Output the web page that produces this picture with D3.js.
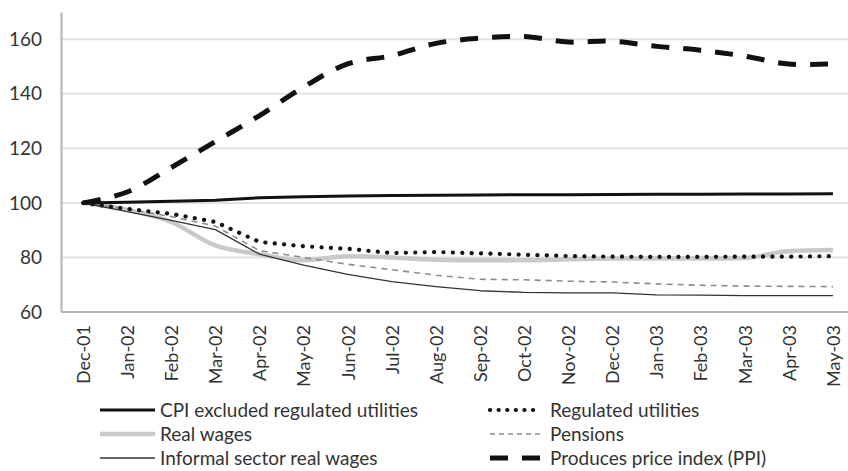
<!DOCTYPE html>
<html>
<head>
<meta charset="utf-8">
<script src="https://cdn.jsdelivr.net/npm/d3@7"></script>
<style>
  html, body { margin: 0; padding: 0; background: #fff; }
  svg { display: block; }
  text { font-family: Lato, "Open Sans", sans-serif; fill: #333; }
</style>
</head>
<body>
<svg id="chart" width="848" height="471"></svg>
<script>
// Monthly index values, Dec-01 = 100
const months = ["Dec-01","Jan-02","Feb-02","Mar-02","Apr-02","May-02","Jun-02","Jul-02","Aug-02",
                "Sep-02","Oct-02","Nov-02","Dec-02","Jan-03","Feb-03","Mar-03","Apr-03","May-03"];

const cpiExclRegulated = [100,100.2,100.6,101,101.9,102.3,102.5,102.7,102.8,102.9,103,103,103.1,103.2,103.2,103.3,103.3,103.4];
const regulatedUtilities = [100,97.8,96,93,85.7,84.1,83.2,81.6,82,81.5,81,80.5,80.3,80.2,80.2,80.3,80.3,80.5];
const realWages = [100,97.5,93,84.4,81.2,79,80.4,80,79.2,79,79,79.3,79.6,79.6,79.6,79.8,82.3,82.7];
const pensions = [100,97.8,95,91.5,82.5,80,77.5,75.5,73.5,72,71.8,71.3,71,70.3,69.8,69.5,69.4,69.3];
const informalWages = [100,96.8,93.6,90.2,81.2,77.2,73.8,71.1,69.3,67.8,67.2,67,67,66.3,66.2,66,66,66];
const ppi = [100,104,113,122.5,132,142.5,151,154,158.5,160.4,161,159,159.3,157.4,156,153.8,150.9,151];

const yTicks = [60, 80, 100, 120, 140, 160];

const seriesNames = ["CPI excluded regulated utilities","Regulated utilities","Real wages","Pensions",
                     "Informal sector real wages","Produces price index (PPI)"];

const svg = d3.select("#chart");

const x = d3.scalePoint().domain(months).range([61, 855]).padding(0.5);
const y = d3.scaleLinear().domain([60, 170]).range([312, 12]);

// horizontal gridlines
svg.append("g")
  .selectAll("line")
  .data(yTicks.slice(1))
  .join("line")
  .attr("x1", 61).attr("x2", 855)
  .attr("y1", d => y(d)).attr("y2", d => y(d))
  .attr("stroke", "#e2e2e2").attr("stroke-width", 2);

// y axis
const yAxis = svg.append("g").attr("transform", "translate(61,0)")
  .call(d3.axisLeft(y).tickValues(yTicks).tickSize(0).tickPadding(19));
yAxis.select(".domain").attr("stroke", "#b4b4b4").attr("stroke-width", 2);
yAxis.selectAll("text").style("font-size", "19px").style("font-family", "Lato, sans-serif").attr("fill", "#333");

// x axis
const xAxis = svg.append("g").attr("transform", `translate(0,${y(60)})`)
  .call(d3.axisBottom(x).tickSize(0).tickPadding(0));
xAxis.select(".domain").attr("d", "M61,0H855").attr("stroke", "#b4b4b4").attr("stroke-width", 2);
xAxis.selectAll("text")
  .style("font-size", "18px").style("font-family", "Lato, sans-serif").attr("fill", "#333")
  .attr("text-anchor", "end")
  .attr("transform", "rotate(-90)")
  .attr("x", -13).attr("y", 0).attr("dy", "0.35em");

const styles = [
  { data: cpiExclRegulated, stroke: "#111", width: 3, dash: null, cap: "butt", curve: d3.curveLinear },
  { data: regulatedUtilities, stroke: "#111", width: 4.2, dash: "0.1,9.3", cap: "round", curve: d3.curveLinear },
  { data: realWages, stroke: "#c9c9c9", width: 4.5, dash: null, cap: "butt", curve: d3.curveMonotoneX },
  { data: pensions, stroke: "#8c8c8c", width: 1.6, dash: "6,5", cap: "butt", curve: d3.curveLinear },
  { data: informalWages, stroke: "#333", width: 1.3, dash: null, cap: "butt", curve: d3.curveLinear },
  { data: ppi, stroke: "#111", width: 5, dash: "18,14", cap: "butt", curve: d3.curveCatmullRom }
];

// draw order: lighter lines underneath
const drawOrder = [2, 3, 4, 0, 1, 5];
drawOrder.forEach(i => {
  const s = styles[i];
  const line = d3.line().x((d, j) => x(months[j])).y(d => y(d)).curve(s.curve);
  svg.append("path")
    .datum(s.data)
    .attr("d", line)
    .attr("fill", "none")
    .attr("stroke", s.stroke)
    .attr("stroke-width", s.width)
    .attr("stroke-linecap", s.cap)
    .attr("stroke-linejoin", "round")
    .attr("stroke-dasharray", s.dash);
});

// legend: two columns, three rows
const legendPos = [
  { sx: 100, ex: 155, tx: 160, ty: 410 },
  { sx: 490, ex: 540, tx: 550, ty: 410 },
  { sx: 100, ex: 155, tx: 160, ty: 434 },
  { sx: 490, ex: 540, tx: 550, ty: 434 },
  { sx: 100, ex: 155, tx: 160, ty: 458 },
  { sx: 490, ex: 540, tx: 550, ty: 458 }
];
const legendDash = [null, "0.1,8.5", null, "5,4", null, "18,14"];

const legend = svg.append("g");
seriesNames.forEach((name, i) => {
  const p = legendPos[i], s = styles[i];
  legend.append("line")
    .attr("x1", p.sx).attr("x2", p.ex).attr("y1", p.ty).attr("y2", p.ty)
    .attr("stroke", s.stroke).attr("stroke-width", s.width)
    .attr("stroke-linecap", s.cap)
    .attr("stroke-dasharray", legendDash[i]);
  legend.append("text")
    .attr("x", p.tx).attr("y", p.ty).attr("dy", "0.35em")
    .style("font-size", "19px")
    .text(name);
});
</script>
</body>
</html>
